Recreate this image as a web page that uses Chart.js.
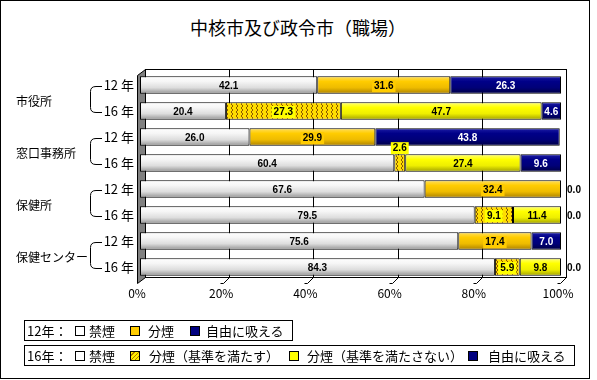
<!DOCTYPE html>
<html lang="ja">
<head>
<meta charset="utf-8">
<script src="https://cdn.jsdelivr.net/npm/chart.js@4.4.1/dist/chart.umd.min.js"></script>
<style>
body { margin: 0; background: #fff; font-family: "Noto Sans CJK JP", sans-serif; color: #000; }
#frame { position: absolute; left: 0; top: 0; width: 590px; height: 379px; border: 1px solid #000; box-sizing: border-box; }
#title { position: absolute; left: 0; top: 15px; width: 596px; text-align: center; font-size: 18px; line-height: 24px; }
#wrap { position: absolute; left: 0; top: 0; width: 597px; height: 380px; }
.leg { position: absolute; left: 24px; height: 21px; border: 1px solid #000; box-sizing: border-box; font-size: 13px; }
.leg span { position: absolute; top: 0; line-height: 19px; white-space: nowrap; }
.leg i { position: absolute; top: 5px; width: 10px; height: 10px; border: 1px solid #000; box-sizing: border-box; }
</style>
</head>
<body>
<div id="frame"></div>
<div id="title">中核市及び政令市（職場）</div>
<div id="wrap"><canvas id="chart"></canvas></div>

<div class="leg" style="top:320px;width:269px;">
  <span style="left:2px">12年：</span>
  <i style="left:50px;background:#fff"></i><span style="left:64px">禁煙</span>
  <i style="left:105px;background:#ffcc00"></i><span style="left:123px">分煙</span>
  <i style="left:165px;background:#000080"></i><span style="left:181px">自由に吸える</span>
</div>
<div class="leg" style="top:345px;width:551px;">
  <span style="left:2px">16年：</span>
  <i style="left:50px;background:#fff"></i><span style="left:64px">禁煙</span>
  <i style="left:105px;background:repeating-linear-gradient(135deg,#ffee00 0 2px,#b07800 2px 3px)"></i><span style="left:124px">分煙（基準を満たす）</span>
  <i style="left:264px;background:#ffff00"></i><span style="left:282px">分煙（基準を満たさない）</span>
  <i style="left:443px;background:#000080"></i><span style="left:463px">自由に吸える</span>
</div>

<script>
// rows: 2 years per workplace
const rows = ['12 年', '16 年', '12 年', '16 年', '12 年', '16 年', '12 年', '16 年'];
const groups = ['市役所', '窓口事務所', '保健所', '保健センター'];
const xTicks = ['0%', '20%', '40%', '60%', '80%', '100%'];

const kinen = [42.1, 20.4, 26.0, 60.4, 67.6, 79.5, 75.6, 84.3];
const bunen12 = [31.6, null, 29.9, null, 32.4, null, 17.4, null];
const bunenOk = [null, 27.3, null, 2.6, null, 9.1, null, 5.9];
const bunenNg = [null, 47.7, null, 27.4, null, 11.4, null, 9.8];
const jiyu = [26.3, 4.6, 43.8, 9.6, 0.0, 0.0, 7.0, 0.0];

// label box colour per dataset (null = no box)
const labelBoxes = [null, '#ffcc00', '#ffff00', null, null];
const labelColors = ['#000', '#000', '#000', '#000', '#fff'];

// cylinder-like shading across the bar thickness
function shade(stops) {
    return ctx => {
        const chart = ctx.chart;
        const y = chart.scales.y;
        if (!y || ctx.type !== 'data') return stops[1][1];
        const c = y.getPixelForValue(ctx.dataIndex);
        if (!isFinite(c)) return stops[1][1];
        const g = chart.ctx.createLinearGradient(0, c - 9, 0, c + 9);
        stops.forEach(s => g.addColorStop(s[0], s[1]));
        return g;
    };
}

function hatch() {
    const c = document.createElement('canvas');
    c.width = 5; c.height = 4;
    const x = c.getContext('2d');
    x.fillStyle = '#ffdd00';
    x.fillRect(0, 0, 5, 4);
    x.strokeStyle = '#8a5a00';
    x.lineWidth = 1;
    x.beginPath();
    x.moveTo(1, 0); x.lineTo(3, 2); x.lineTo(1, 4);
    x.stroke();
    return x.createPattern(c, 'repeat');
}

// 3D-ish walls and floor behind the bars
const walls = {
    id: 'walls',
    beforeDatasetsDraw(chart) {
        const { ctx, chartArea: a, scales: { x } } = chart;
        const L = a.left, R = a.right, T = a.top, B = a.bottom;
        ctx.save();
        ctx.lineWidth = 1;
        ctx.strokeStyle = '#000';
        ctx.beginPath();
        ctx.moveTo(L - 2.5, T + 3.5);
        ctx.lineTo(L + 5.5, T - 2.5);
        ctx.lineTo(L + 5.5, B - 2.5);
        ctx.lineTo(L - 2.5, B + 3.5);
        ctx.closePath();
        ctx.fillStyle = '#808080';
        ctx.fill();
        ctx.stroke();
        ctx.strokeRect(L + 5.5, T - 2.5, R - L, B - T);
        ctx.beginPath();
        [20, 40, 60, 80].forEach(v => {
            const px = Math.round(x.getPixelForValue(v)) + 5.5;
            ctx.moveTo(px, T - 2.5);
            ctx.lineTo(px, B - 2.5);
        });
        [20, 40, 60, 80, 100].forEach(v => {
            const px = Math.round(x.getPixelForValue(v)) + 5.5;
            ctx.moveTo(px, B - 2.5);
            ctx.lineTo(px - 6, B + 3.5);
            ctx.lineTo(px - 9, B + 3.5);
        });
        ctx.stroke();
        ctx.restore();
    }
};

const valueLabels = {
    id: 'valueLabels',
    afterDatasetsDraw(chart) {
        const ctx = chart.ctx;
        ctx.save();
        ctx.font = 'bold 10px "Liberation Sans", Arial, sans-serif';
        ctx.textAlign = 'center';
        ctx.textBaseline = 'middle';
        chart.data.datasets.forEach((ds, i) => {
            chart.getDatasetMeta(i).data.forEach((bar, j) => {
                const v = ds.data[j];
                if (v === null || v === undefined) return;
                const p = bar.getProps(['x', 'y', 'base', 'height'], true);
                const txt = v.toFixed(1);
                const w = ctx.measureText(txt).width;
                let cx = (p.x + p.base) / 2, cy = p.y + 1;
                let color = labelColors[i], box = labelBoxes[i];
                if (v === 0) {
                    cx = p.x + 13; color = '#000'; box = null;
                } else if (Math.abs(p.x - p.base) < w + 4) {
                    cy = p.y - p.height / 2 - 6;
                }
                if (box) {
                    ctx.fillStyle = box;
                    ctx.fillRect(cx - w / 2 - 2, cy - 6, w + 4, 12);
                }
                ctx.fillStyle = color;
                ctx.fillText(txt, cx, cy);
            });
        });
        ctx.restore();
    }
};

// workplace names with curly brackets joining the two year rows
const groupLabels = {
    id: 'groupLabels',
    afterDraw(chart) {
        const { ctx, scales: { y } } = chart;
        ctx.save();
        ctx.strokeStyle = '#000';
        ctx.lineWidth = 1;
        ctx.fillStyle = '#000';
        ctx.font = '12px "Noto Sans CJK JP", sans-serif';
        ctx.textBaseline = 'middle';
        groups.forEach((name, g) => {
            const y1 = Math.round(y.getPixelForValue(g * 2)) + 1.5;
            const y2 = Math.round(y.getPixelForValue(g * 2 + 1)) + 1.5;
            ctx.beginPath();
            ctx.moveTo(102, y1);
            ctx.lineTo(96, y1);
            ctx.quadraticCurveTo(90.5, y1, 90.5, y1 + 5);
            ctx.lineTo(90.5, y2 - 5);
            ctx.quadraticCurveTo(90.5, y2, 96, y2);
            ctx.lineTo(102, y2);
            ctx.stroke();
            ctx.fillText(name, 16, (y1 + y2) / 2 + 2);
        });
        ctx.restore();
    }
};

const common = { borderColor: '#000', borderWidth: 1, borderSkipped: false, barPercentage: 0.68, categoryPercentage: 1 };

new Chart(document.getElementById('chart'), {
    type: 'bar',
    data: {
        labels: rows,
        datasets: [
            { ...common, label: '禁煙', data: kinen,
              backgroundColor: shade([[0, '#ffffff'], [0.3, '#f6f6f6'], [0.65, '#dddddd'], [1, '#8f8f8f']]) },
            { ...common, label: '分煙', data: bunen12,
              backgroundColor: shade([[0, '#ffe066'], [0.3, '#ffcc00'], [0.65, '#eebb00'], [1, '#a87e00']]) },
            { ...common, label: '分煙（基準を満たす）', data: bunenOk, backgroundColor: hatch() },
            { ...common, label: '分煙（基準を満たさない）', data: bunenNg,
              backgroundColor: shade([[0, '#ffff80'], [0.3, '#ffff00'], [0.65, '#eeee00'], [1, '#9c9c00']]) },
            { ...common, label: '自由に吸える', data: jiyu,
              backgroundColor: shade([[0, '#2020a8'], [0.3, '#000088'], [0.65, '#000078'], [1, '#000040']]) }
        ]
    },
    options: {
        indexAxis: 'y',
        responsive: true,
        maintainAspectRatio: false,
        animation: false,
        layout: { padding: { top: 72, right: 36, left: 0, bottom: 0 } },
        plugins: { legend: { display: false }, tooltip: { enabled: false } },
        scales: {
            x: {
                stacked: true,
                min: 0,
                max: 100,
                grid: { display: false, drawTicks: false },
                border: { display: false },
                ticks: {
                    stepSize: 20,
                    padding: 6,
                    labelOffset: -3,
                    color: '#000',
                    font: { family: '"Noto Sans CJK JP", sans-serif', size: 12 },
                    callback: (v, i) => xTicks[i]
                },
                afterFit(s) { s.height = 100; }
            },
            y: {
                stacked: true,
                grid: { display: false, drawTicks: false },
                border: { display: false },
                ticks: {
                    padding: 6,
                    color: '#000',
                    font: { family: '"Noto Sans CJK JP", sans-serif', size: 13 }
                },
                afterFit(s) { s.width = 140; }
            }
        }
    },
    plugins: [walls, valueLabels, groupLabels]
});
</script>
</body>
</html>
